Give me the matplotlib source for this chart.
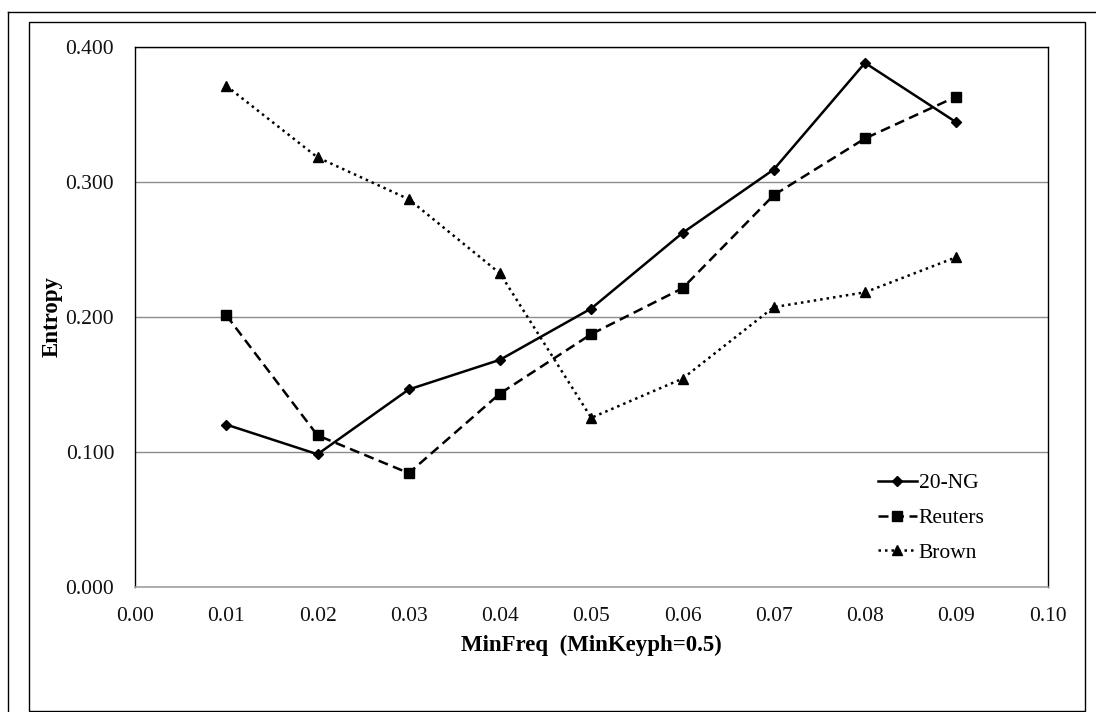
import matplotlib
matplotlib.use("Agg")
import matplotlib.pyplot as plt
from matplotlib.lines import Line2D
from matplotlib.patches import Rectangle

min_freq = [0.01, 0.02, 0.03, 0.04, 0.05, 0.06, 0.07, 0.08, 0.09]
ng20 = [0.120, 0.098, 0.146, 0.168, 0.206, 0.262, 0.309, 0.388, 0.344]
reuters = [0.201, 0.112, 0.084, 0.143, 0.187, 0.221, 0.290, 0.332, 0.363]
brown = [0.371, 0.318, 0.287, 0.232, 0.125, 0.154, 0.207, 0.218, 0.244]
x_ticks = [0.00, 0.01, 0.02, 0.03, 0.04, 0.05, 0.06, 0.07, 0.08, 0.09, 0.10]
y_ticks = [0.0, 0.1, 0.2, 0.3, 0.4]

plt.rcParams['font.family'] = ['Liberation Serif', 'DejaVu Serif']

W, H = 1096, 712
fig = plt.figure(figsize=(W / 100, H / 100), dpi=100)

# frames
fig.add_artist(Line2D([8.3 / W, 8.3 / W], [0, 1 - 11.7 / H], color='black', lw=1.0,
                      transform=fig.transFigure))
fig.add_artist(Line2D([8.3 / W, 1.0], [1 - 11.7 / H, 1 - 11.7 / H], color='black', lw=1.0,
                      transform=fig.transFigure))
fig.add_artist(Rectangle((28.7 / W, 1 - 711 / H), (1085 - 28.7) / W, (711 - 21.7) / H,
                         fill=False, edgecolor='black', lw=1.0, transform=fig.transFigure))

ax = fig.add_axes([135 / W, 1 - 586.5 / H, (1047.5 - 135) / W, (586.5 - 46.7) / H])

ax.plot(min_freq, ng20, color='black', lw=1.8, linestyle='-', marker='D', markersize=5,
        label='20-NG', zorder=3)
ax.plot(min_freq, reuters, color='black', lw=1.8, linestyle=(0, (4, 2.2)), marker='s',
        markersize=7, label='Reuters', zorder=3)
ax.plot(min_freq, brown, color='black', lw=1.8, linestyle=(0, (1, 1.6)), marker='^',
        markersize=7.5, label='Brown', zorder=3)

ax.set_xlim(0, 0.10)
ax.set_ylim(0, 0.4)
ax.set_xticks(x_ticks)
ax.set_xticklabels([f"{v:.2f}" for v in x_ticks])
ax.set_yticks(y_ticks)
ax.set_yticklabels([f"{v:.3f}" for v in y_ticks])
ax.tick_params(axis='both', length=0, labelsize=15.5, colors='#111111')
ax.tick_params(axis='y', pad=15)
ax.tick_params(axis='x', pad=15)

ax.yaxis.grid(True, color='#8c8c8c', lw=1.0)
ax.set_axisbelow(True)
for s in ['left', 'top', 'right']:
    ax.spines[s].set_color('black')
    ax.spines[s].set_linewidth(1.0)
ax.spines['bottom'].set_color('#a0a0a0')
ax.spines['bottom'].set_linewidth(1.2)

ax.set_xlabel('MinFreq  (MinKeyph=0.5)', fontsize=16.5, fontweight='bold', labelpad=6)
ax.set_ylabel('Entropy', fontsize=16.5, fontweight='bold', labelpad=2)

leg = ax.legend(loc='center left', bbox_to_anchor=(878 / W, 1 - 518 / H),
                bbox_transform=fig.transFigure, frameon=False, fontsize=15.5,
                handlelength=1.8, handletextpad=0.1, labelspacing=0.68,
                borderpad=0, borderaxespad=0)

fig.savefig('out.png', dpi=100)
